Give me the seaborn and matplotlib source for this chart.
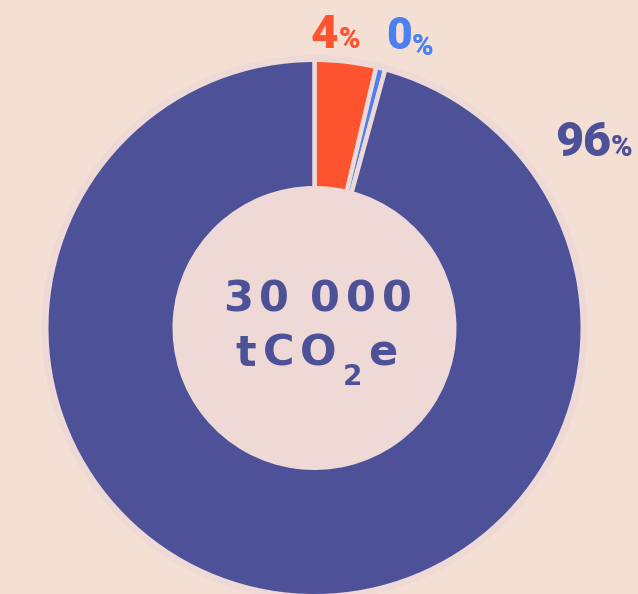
import matplotlib
matplotlib.use("Agg")
import matplotlib.pyplot as plt
import seaborn as sns

# data
categories = ["orange", "blue", "dark blue"]
shares = [3.7, 0.55, 95.75]
labels = ["4", "0", "96"]
total_label = "30 000"
unit_label = ["tCO", "2", "e"]

bg = "#F3DFD3"
pink = "#EFD9D6"
palette = sns.color_palette(["#FD532E", "#4A80F1", "#4D5298"])

sns.set_theme(style="white")
plt.rcParams["font.family"] = ["Roboto", "DejaVu Sans"]

W, H = 638, 594
fig = plt.figure(figsize=(W / 100, H / 100), dpi=100, facecolor=bg)
ax = fig.add_axes([0, 0, 1, 1])
ax.set_facecolor(bg)

cx, cy = 314.5, H - 328
r_out, r_in = 266, 142
lw_px = 4.5

# pink backing disc: outer rim + hole fill
ax.add_patch(plt.Circle((cx, cy), r_out + 6, color=pink, zorder=0))

ax.pie(shares, colors=palette, startangle=90, counterclock=False,
       radius=r_out + lw_px / 2, center=(cx, cy),
       wedgeprops=dict(width=r_out - r_in + lw_px, edgecolor=pink,
                       linewidth=lw_px * 0.72))
ax.set_xlim(0, W)
ax.set_ylim(0, H)
ax.set_aspect("equal")
ax.axis("off")

renderer = fig.canvas.get_renderer()


def run(parts, x, color, family, weight, spacing=0.0, center=False,
        space=0.28):
    # parts: list of (text, size, baseline y in image px)
    items = []
    for txt, size, yb in parts:
        for ch in txt:
            items.append((ch, size, yb))
    kw = dict(family=family, fontweight=weight)
    widths = []
    for ch, size, yb in items:
        if ch == " ":
            widths.append(size * 100 / 72 * space)
            continue
        t = ax.text(0, 0, ch, fontsize=size, **kw)
        widths.append(t.get_window_extent(renderer).width)
        t.remove()
    total = sum(widths) + spacing * (len(items) - 1)
    if center:
        x = x - total / 2
    for (ch, size, yb), w in zip(items, widths):
        if ch != " ":
            ax.text(x, H - yb, ch, fontsize=size, color=color,
                    ha="left", va="baseline", **kw)
        x += w + spacing


# slice labels
lab = dict(family="Roboto", weight=900, spacing=0)
run([(labels[0], 34, 48), ("%", 21, 48)], 311, palette[0], **lab)
run([(labels[1], 32, 49), ("%", 21, 55)], 386, palette[1], **lab)
run([(labels[2], 35, 156), ("%", 21, 156)], 555, palette[2], **lab)

# centre text
ctr = dict(family="DejaVu Sans", weight="bold", spacing=6, center=True,
           space=0.2)
run([(total_label, 31, 311)], cx + 3, palette[2], **ctr)
run([(unit_label[0], 31, 366), (unit_label[1], 20, 385),
     (unit_label[2], 31, 366)], cx + 2, palette[2], **ctr)

fig.savefig("out.png", dpi=100, facecolor=bg)
